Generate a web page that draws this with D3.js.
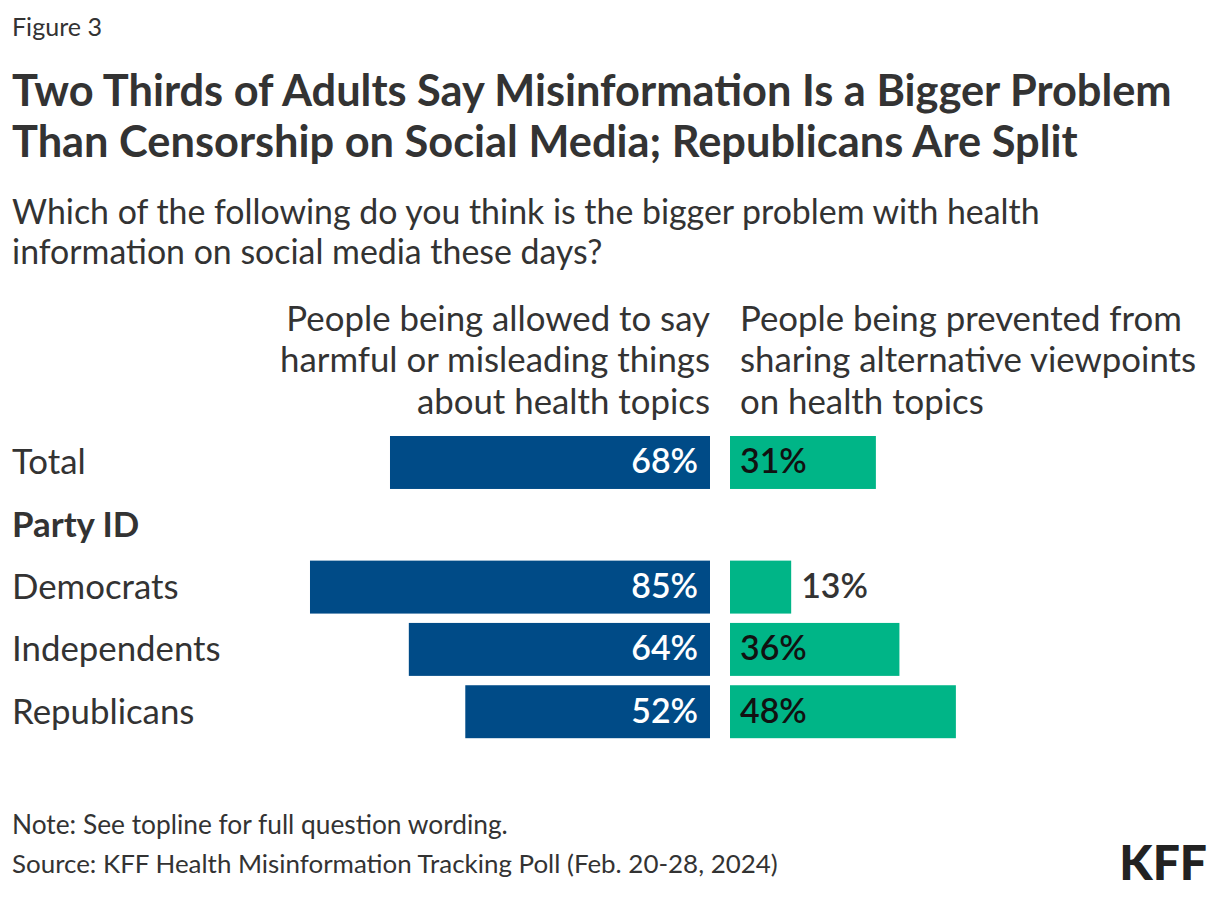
<!DOCTYPE html>
<html><head><meta charset="utf-8">
<script src="https://cdn.jsdelivr.net/npm/d3@7"></script>
<style>
body{margin:0;background:#fff;}
svg text{font-family:"Lato","Noto Sans",sans-serif;}
</style></head>
<body><svg id="chart" width="1220" height="898"></svg>
<script>
const categories = ["Total", "Party ID", "Democrats", "Independents", "Republicans"];
const misinfoValues = [68, null, 85, 64, 52];
const censorValues = [31, null, 13, 36, 48];
const leftHeader = ["People being allowed to say", "harmful or misleading things", "about health topics"];
const rightHeader = ["People being prevented from", "sharing alternative viewpoints", "on health topics"];
const headingRows = ["Party ID"];

const svg = d3.select("#chart");
const W = 1220, H = 898;
svg.append("rect").attr("width", W).attr("height", H).attr("fill", "#fff");
const dark = "#333333";

function fit(sel, target) {
  const w = sel.node().getComputedTextLength();
  const fs = parseFloat(sel.attr("font-size"));
  sel.attr("font-size", fs * target / w);
}

const fig = svg.append("text").attr("x", 12).attr("y", 36).attr("font-size", 22).attr("fill", dark).text("Figure 3");
fit(fig, 90);
const t1 = svg.append("text").attr("x", 12).attr("y", 106).attr("font-size", 38).attr("font-weight", 700).attr("fill", dark)
  .text("Two Thirds of Adults Say Misinformation Is a Bigger Problem");
fit(t1, 1160);
svg.append("text").attr("x", 12).attr("y", 157).attr("font-size", t1.attr("font-size")).attr("font-weight", 700).attr("fill", dark)
  .text("Than Censorship on Social Media; Republicans Are Split");
const s1 = svg.append("text").attr("x", 12).attr("y", 224).attr("font-size", 30).attr("fill", dark)
  .text("Which of the following do you think is the bigger problem with health");
fit(s1, 1028);
const subFs = +s1.attr("font-size");
svg.append("text").attr("x", 12).attr("y", 264).attr("font-size", subFs).attr("fill", dark)
  .text("information on social media these days?");

// scales
const x = d3.scaleLinear().domain([0, 100]).range([0, 470.6]);
const y = d3.scaleBand().domain(categories).range([436, 738.2]).paddingInner(0.15).paddingOuter(0);
const midL = 710, midR = 730;

const headerY = [331, 372, 414];
const h2 = svg.append("text").attr("x", midL).attr("y", headerY[1]).attr("text-anchor", "end")
  .attr("font-size", subFs).text(leftHeader[1]);
fit(h2, 430);
const headFs = +h2.attr("font-size");
h2.remove();
leftHeader.forEach((t, i) => {
  svg.append("text").attr("x", midL).attr("y", headerY[i]).attr("text-anchor", "end")
    .attr("font-size", headFs).attr("fill", dark).text(t);
});
rightHeader.forEach((t, i) => {
  svg.append("text").attr("x", 740).attr("y", headerY[i]).attr("text-anchor", "start")
    .attr("font-size", headFs).attr("fill", dark).text(t);
});

const rows = categories.map((c, i) => ({cat: c, left: misinfoValues[i], right: censorValues[i]}));

svg.selectAll(".rowlabel").data(rows).join("text")
  .attr("x", 12).attr("y", d => y(d.cat) + y.bandwidth() / 2 + 12)
  .attr("font-size", headFs).attr("fill", dark)
  .attr("font-weight", d => headingRows.includes(d.cat) ? 700 : 400)
  .text(d => d.cat);

const barRows = rows.filter(d => d.left != null);
svg.selectAll(".lbar").data(barRows).join("rect")
  .attr("x", d => midL - x(d.left)).attr("y", d => y(d.cat))
  .attr("width", d => x(d.left)).attr("height", y.bandwidth()).attr("fill", "#004b87");
svg.selectAll(".rbar").data(barRows).join("rect")
  .attr("x", midR).attr("y", d => y(d.cat))
  .attr("width", d => x(d.right)).attr("height", y.bandwidth()).attr("fill", "#00b587");

svg.selectAll(".lval").data(barRows).join("text")
  .attr("x", midL - 12).attr("y", d => y(d.cat) + y.bandwidth() / 2 + 11)
  .attr("text-anchor", "end").attr("font-size", subFs).attr("font-weight", 600).attr("fill", "#fff")
  .text(d => d.left + "%");
svg.selectAll(".rval").data(barRows).join("text")
  .attr("x", d => x(d.right) < 80 ? midR + x(d.right) + 10 : midR + 10)
  .attr("y", d => y(d.cat) + y.bandwidth() / 2 + 11)
  .attr("text-anchor", "start").attr("font-size", subFs).attr("font-weight", 600)
  .attr("fill", d => x(d.right) < 80 ? dark : "#111")
  .text(d => d.right + "%");

const n = svg.append("text").attr("x", 12).attr("y", 834).attr("font-size", 22).attr("fill", dark)
  .text("Note: See topline for full question wording.");
fit(n, 496);
const src = svg.append("text").attr("x", 12).attr("y", 873).attr("font-size", 22).attr("fill", dark)
  .text("Source: KFF Health Misinformation Tracking Poll (Feb. 20-28, 2024)");
fit(src, 766);
svg.append("text").attr("x", 1207).attr("y", 880).attr("text-anchor", "end")
  .attr("font-size", 48).attr("font-weight", 900).attr("fill", "#222")
  .attr("font-family", "'Liberation Sans Narrow','Roboto Condensed','Roboto',sans-serif")
  .text("KFF");
</script></body></html>
